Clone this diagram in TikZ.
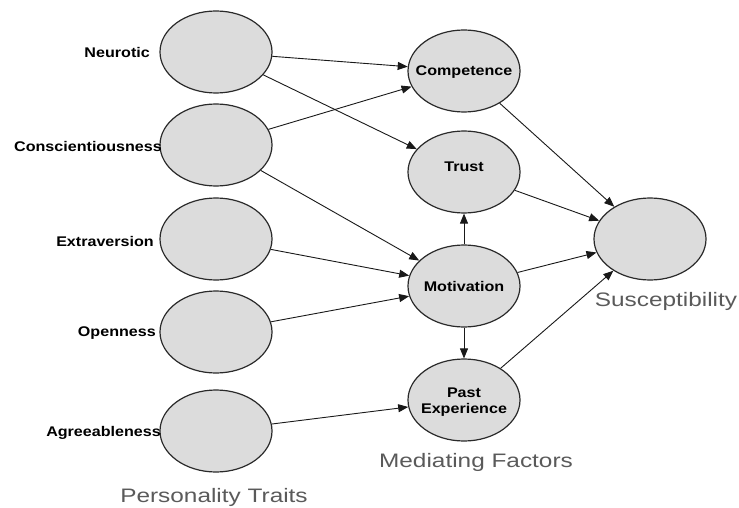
\documentclass[tikz,border=0pt]{standalone}
\usepackage{fontspec}
\setmainfont{Liberation Sans}
\newfontfamily\lblfont[FakeStretch=1.15]{Liberation Sans}
\newfontfamily\capfont[FakeStretch=1.25]{Liberation Sans}
\usetikzlibrary{shapes.geometric,arrows.meta}
\definecolor{bubble}{HTML}{DCDCDC}
\definecolor{rim}{HTML}{2A2A2A}
\definecolor{captxt}{HTML}{5A5A5A}
\tikzset{
  factor/.style={ellipse, draw=rim, line width=1.2pt, fill=bubble,
    minimum width=112pt, minimum height=82pt, inner sep=0pt},
  inner/.style={align=center, inner sep=0pt,
    font=\lblfont\bfseries\fontsize{14}{15.5}\selectfont},
  trait/.style={anchor=east, inner sep=0pt,
    font=\lblfont\bfseries\fontsize{14}{16}\selectfont},
  caption/.style={inner sep=0pt, text=captxt,
    font=\capfont\fontsize{19.5}{22}\selectfont},
  link/.style={draw=black!90, line width=0.9pt,
    -{Triangle[length=10pt,width=8pt]}}
}
\begin{document}
\begin{tikzpicture}[x=1pt,y=-1pt]
  \fill[white] (0,0) rectangle (739,508);
  \useasboundingbox (0,0) rectangle (739,508);

  % personality traits
  \node[factor] (neu) at (216,52)  {};
  \node[factor] (con) at (216,145) {};
  \node[factor] (ext) at (216,239) {};
  \node[factor] (ope) at (216,332) {};
  \node[factor] (agr) at (216,431) {};

  \node[trait] (lneu) at (150,52)  {Neurotic};
  \node[trait] (lcon) at (162,146) {Conscientiousness};
  \node[trait] (lext) at (154,241) {Extraversion};
  \node[trait] (lope) at (156,333) {Openness};
  \node[trait] (lagr) at (161,433) {Agreeableness};

  % mediating factors
  \node[factor] (comp) at (464,71)  {};
  \node[factor] (trust) at (464,172) {};
  \node[factor] (moti) at (464,286) {};
  \node[factor] (past) at (464,400) {};
  \node[inner] (tcomp) at (464,72) {Competence};
  \node[inner] (ttrust) at (464,167) {Trust};
  \node[inner] (tmoti) at (464,286) {Motivation};
  \node[inner] (tpast) at (464,402) {Past\\Experience};

  % outcome
  \node[factor] (susc) at (650,239) {};

  % captions
  \node[caption] (ctraits) at (214,497) {Personality Traits};
  \node[caption] (cmed) at (476,462) {Mediating Factors};
  \node[caption] (csusc) at (666,301) {Susceptibility};

  % paths
  \draw[link] (neu) -- (comp);
  \draw[link] (neu) -- (trust);
  \draw[link] (con) -- (comp);
  \draw[link] (con) -- (moti);
  \draw[link] (ext) -- (moti);
  \draw[link] (ope) -- (moti);
  \draw[link] (agr) -- (past);
  \draw[link] (moti) -- (trust);
  \draw[link] (moti) -- (past);
  \draw[link] (comp) -- (susc);
  \draw[link] (trust) -- (susc);
  \draw[link] (moti) -- (susc);
  \draw[link] (past) -- (susc);
\end{tikzpicture}
\end{document}
